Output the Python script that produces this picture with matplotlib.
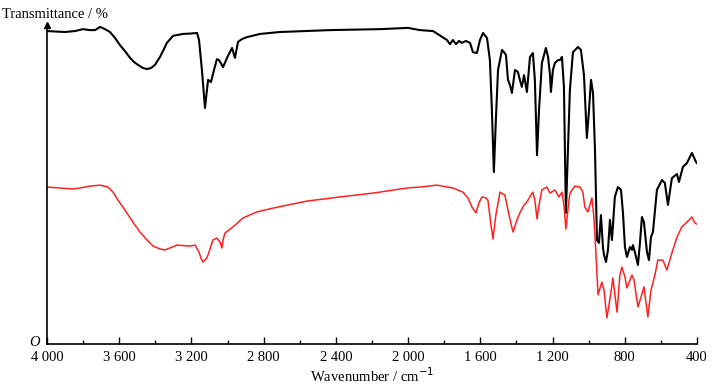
import numpy as np
import matplotlib.pyplot as plt

# IR spectra (wavenumber in cm-1, transmittance in %)
wn_black = [4000, 3900, 3845, 3801, 3762, 3734, 3706, 3679, 3651, 3623, 3596, 3568, 3540, 3518,
            3496, 3468, 3446, 3424, 3402, 3374, 3352, 3336, 3302, 3247, 3208, 3169, 3158, 3142,
            3125, 3108, 3092, 3075, 3059, 3047, 3025, 3003, 2975, 2959, 2942, 2920, 2892, 2820,
            2710, 2433, 2156, 2001, 1934, 1862, 1785,
            1768, 1752, 1735, 1718, 1702, 1680, 1657, 1641, 1619, 1602, 1585, 1563, 1547, 1536,
            1525, 1514, 1502, 1480, 1469, 1458, 1447, 1436, 1425, 1408, 1392, 1381, 1370, 1358,
            1342, 1325, 1309, 1298, 1286, 1275, 1259, 1237, 1225, 1214, 1209, 1198, 1187, 1170,
            1159, 1148, 1137, 1126, 1115, 1104, 1087, 1059, 1043, 1026, 1010, 998, 987, 976,
            965, 954, 943, 932, 921, 915, 904, 893, 882, 871, 855, 838, 821, 810, 799, 788,
            771, 760, 755, 744, 727, 716, 705, 694, 677, 666, 655, 644, 622, 594, 578, 561,
            539, 511, 500, 478, 456, 428, 406, 400]
t_black = [98.1, 97.8, 98.1, 98.7, 98.4, 98.4, 99.4, 98.7, 97.8, 95.9, 93.7, 91.8, 89.7, 88.4,
           87.5, 86.5, 86.2, 86.5, 87.5, 90.0, 92.5, 94.4, 96.6, 97.2, 97.3, 97.5, 95.3, 85.9,
           74.0, 82.8, 82.1, 85.9, 89.3, 89.0, 86.8, 89.7, 92.8, 89.7, 94.7, 95.6, 96.2, 97.2,
           97.8, 98.4, 98.7, 99.1, 98.4, 98.1, 95.3,
           94.0, 95.3, 94.0, 95.0, 94.4, 95.0, 94.4, 91.5, 91.2, 95.3, 97.5, 95.9, 89.0, 73.4,
           53.9, 70.2, 85.9, 92.2, 91.5, 90.6, 82.8, 81.2, 78.7, 85.9, 85.3, 82.8, 80.6, 84.3,
           79.0, 90.0, 91.2, 82.8, 59.2, 73.4, 88.1, 92.8, 90.0, 84.3, 79.0, 85.9, 88.1, 89.0,
           89.0, 90.0, 80.6, 41.1, 60.8, 79.6, 91.5, 93.1, 92.2, 84.3, 64.6, 73.4, 82.8, 78.7,
           60.8, 32.6, 31.7, 40.4, 30.4, 27.9, 25.7, 29.5, 38.9, 32.6, 46.1, 49.2, 48.3, 41.1,
           30.4, 27.3, 30.4, 29.5, 31.0, 28.8, 24.8, 31.7, 39.8, 38.2, 28.8, 26.3, 33.5, 35.1,
           48.3, 51.4, 50.5, 43.6, 52.0, 53.3, 50.8, 55.5, 56.7, 59.9, 57.1, 56.7]

wn_red = [4000, 3928, 3856, 3817, 3762, 3706, 3662, 3634, 3607, 3579, 3524, 3485, 3446, 3413,
          3374, 3347, 3319, 3280, 3208, 3180, 3158, 3147, 3136, 3114, 3097, 3081, 3059, 3042,
          3031, 3025, 3014, 2970, 2915, 2837, 2748, 2560, 2377, 2195, 2006, 1934, 1840, 1752,
          1696, 1669, 1646, 1624, 1608, 1591, 1569, 1558, 1541, 1530, 1514, 1491, 1464, 1441,
          1419, 1397, 1381, 1358, 1342, 1320, 1309, 1298, 1286, 1275, 1259, 1231, 1214, 1187,
          1165, 1148, 1137, 1126, 1115, 1104, 1076, 1048, 1032, 1021, 1004, 982, 971, 960,
          948, 927, 915, 899, 877, 866, 843, 827, 816, 799, 788, 760, 749, 727, 710, 694,
          672, 655, 633, 617, 589, 567, 539, 511, 484, 456, 428, 411, 400]
t_red = [49.2, 48.9, 48.6, 48.9, 49.5, 49.8, 49.2, 47.6, 45.1, 42.9, 38.2, 35.1, 32.6, 30.7,
         29.8, 29.5, 30.1, 31.0, 30.7, 31.0, 28.8, 26.9, 25.7, 27.0, 29.8, 32.6, 33.2, 32.0,
         30.1, 32.6, 34.8, 36.7, 39.5, 41.4, 42.6, 44.8, 46.1, 47.3, 48.9, 49.2, 49.8, 48.9,
         47.6, 45.8, 42.9, 41.1, 44.2, 46.1, 45.8, 45.1, 37.3, 32.9, 40.4, 47.6, 46.7, 40.4,
         35.1, 38.9, 41.1, 43.6, 44.5, 46.7, 47.6, 45.1, 39.2, 43.6, 48.3, 49.2, 47.3, 48.3,
         46.1, 47.6, 43.6, 36.1, 42.0, 47.3, 49.5, 49.2, 47.6, 42.9, 41.4, 45.8, 39.8, 28.5,
         15.4, 19.4, 16.9, 8.2, 16.0, 20.7, 10.0, 21.6, 24.1, 21.0, 17.6, 21.6, 20.1, 11.6,
         14.7, 17.9, 8.5, 16.9, 21.6, 26.3, 26.3, 23.2, 28.5, 33.5, 36.7, 38.2, 39.8, 37.9, 37.6]

xticks = [4000, 3600, 3200, 2800, 2400, 2000, 1600, 1200, 800, 400]
xlabels = ["4 000", "3 600", "3 200", "2 800", "2 400", "2 000", "1 600", "1 200", "800", "400"]

serif = "Liberation Serif"

fig = plt.figure(figsize=(7.28, 3.92), dpi=100)
ax = fig.add_axes([47 / 728, 48 / 392, 650 / 728, 319 / 392])

ax.plot(wn_black, t_black, color="black", lw=1.5, solid_joinstyle="round")
ax.plot(wn_red, t_red, color="#ff2020", lw=1.1, solid_joinstyle="round")

ax.set_xlim(4000, 400)
ax.set_ylim(0, 100)

ax.spines["top"].set_visible(False)
ax.spines["right"].set_visible(False)
ax.spines["left"].set_linewidth(1.2)
ax.spines["bottom"].set_linewidth(1.2)

ax.set_xticks(xticks)
ax.set_xticklabels(xlabels, fontfamily=serif, fontsize=10.5)
ax.set_xticks(np.arange(3800, 400, -400), minor=True)
ax.tick_params(axis="x", which="major", direction="in", length=5, width=1, pad=5)
ax.tick_params(axis="x", which="minor", direction="in", length=3, width=1)
ax.set_yticks([])

# arrow at top of the y axis
ax.plot(0, 1, marker="^", color="black", markersize=5, transform=ax.transAxes, clip_on=False)

ax.set_xlabel("Wavenumber / cm$^{-1}$", fontfamily=serif, fontsize=10.5, labelpad=2)
fig.text(2 / 728, 1 - 15 / 392, "Transmittance / %", fontfamily=serif, fontsize=10.5, va="center")
fig.text(40 / 728, 1 - 342 / 392, "O", fontfamily=serif, fontstyle="italic", fontsize=10.5,
         ha="right", va="center")

plt.savefig("out.png", dpi=100)
